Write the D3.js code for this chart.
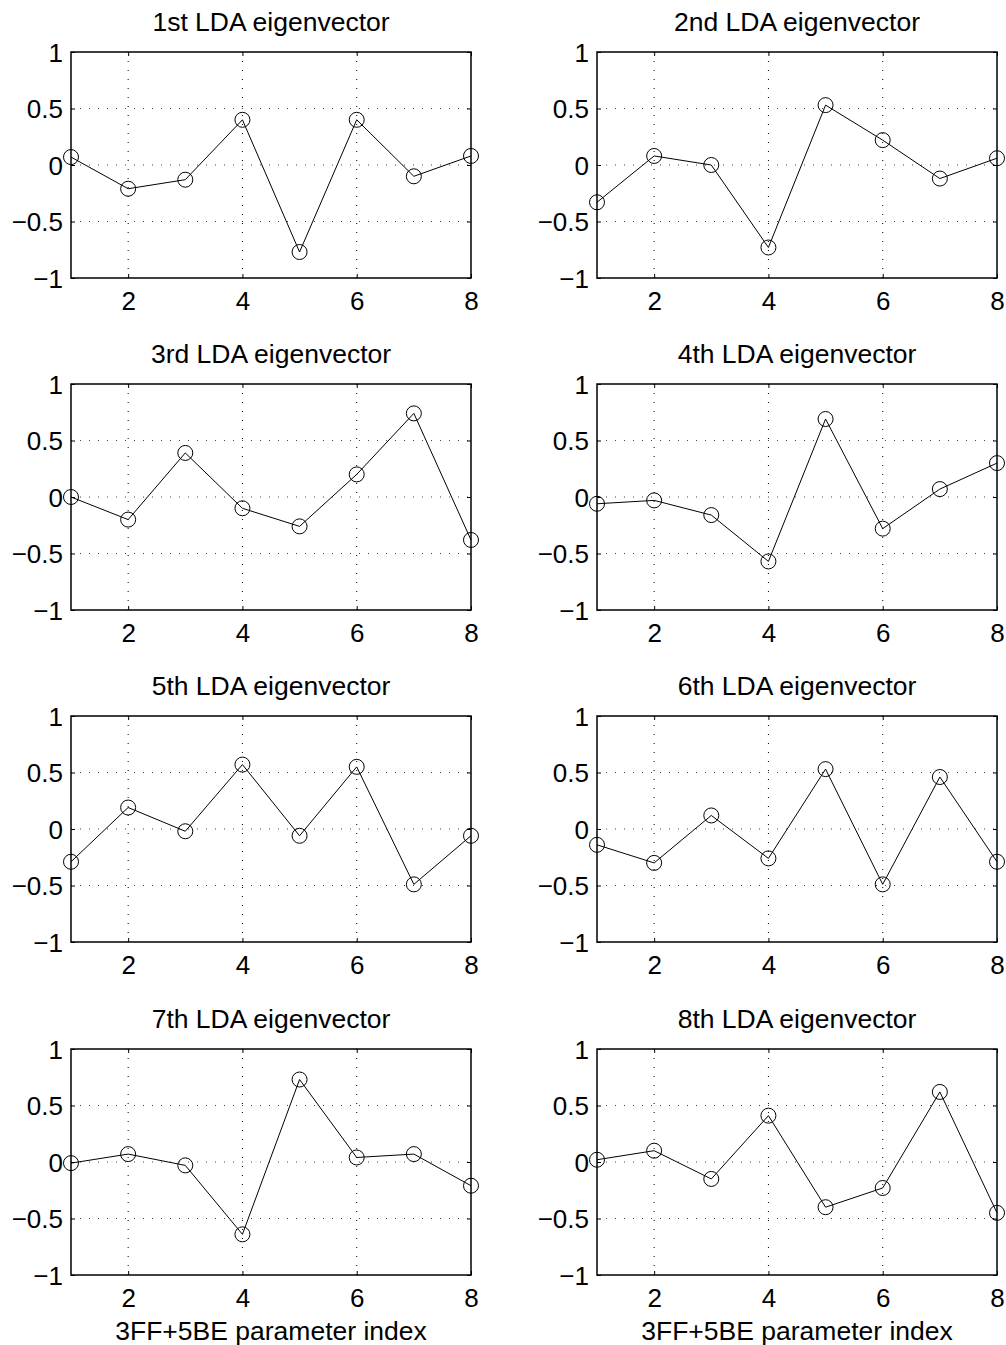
<!DOCTYPE html>
<html>
<head>
<meta charset="utf-8">
<script src="https://cdn.jsdelivr.net/npm/d3@7"></script>
<style>
  body { margin: 0; background: #fff; }
  text { font-family: "Liberation Sans", Arial, Helvetica, sans-serif; fill: #000; }
</style>
</head>
<body>
<svg id="chart" width="1006" height="1345"></svg>
<script>
const titles = ["1st LDA eigenvector","2nd LDA eigenvector","3rd LDA eigenvector","4th LDA eigenvector",
                "5th LDA eigenvector","6th LDA eigenvector","7th LDA eigenvector","8th LDA eigenvector"];
const paramIndex = [1,2,3,4,5,6,7,8];
const ev1 = [0.07,-0.21,-0.13,0.40,-0.77,0.40,-0.10,0.08];
const ev2 = [-0.33,0.08,0.00,-0.73,0.53,0.22,-0.12,0.06];
const ev3 = [0.00,-0.20,0.39,-0.10,-0.26,0.20,0.74,-0.38];
const ev4 = [-0.06,-0.03,-0.16,-0.57,0.69,-0.28,0.07,0.30];
const ev5 = [-0.29,0.19,-0.02,0.57,-0.06,0.55,-0.49,-0.06];
const ev6 = [-0.14,-0.30,0.12,-0.26,0.53,-0.49,0.46,-0.29];
const ev7 = [-0.01,0.07,-0.03,-0.64,0.73,0.04,0.07,-0.21];
const ev8 = [0.02,0.10,-0.15,0.41,-0.40,-0.23,0.62,-0.45];
const series = [ev1,ev2,ev3,ev4,ev5,ev6,ev7,ev8];
const xTicks = [2,4,6,8];
const yTicks = [-1,-0.5,0,0.5,1];
const xLabel = "3FF+5BE parameter index";

const svg = d3.select("#chart");
const colX = [71, 597];
const rowY = [52, 384, 716, 1049];
const W = 400, H = 226;

const fmt = v => (v < 0 ? "\u2212" : "") + Math.abs(v);

series.forEach((vals, i) => {
  const col = i % 2, row = Math.floor(i / 2);
  const g = svg.append("g").attr("transform", `translate(${colX[col]},${rowY[row]})`);
  const x = d3.scaleLinear().domain([1, 8]).range([0, W]);
  const y = d3.scaleLinear().domain([-1, 1]).range([H, 0]);

  // grid
  g.selectAll(".vg").data(xTicks.filter(t => t < 8)).enter().append("line")
    .attr("x1", d => x(d)).attr("x2", d => x(d)).attr("y1", 0).attr("y2", H)
    .attr("stroke", "#000").attr("stroke-width", 1).attr("stroke-dasharray", "1,8");
  g.selectAll(".hg").data(yTicks.filter(t => t > -1 && t < 1)).enter().append("line")
    .attr("x1", 0).attr("x2", W).attr("y1", d => y(d)).attr("y2", d => y(d))
    .attr("stroke", "#444").attr("stroke-width", 1).attr("stroke-dasharray", "1,8");

  // axes
  const xb = g.append("g").attr("transform", `translate(0,${H})`)
    .call(d3.axisBottom(x).tickValues(xTicks).tickSize(-4).tickPadding(14).tickFormat(d3.format("d")));
  const xt = g.append("g")
    .call(d3.axisTop(x).tickValues(xTicks).tickSize(-4).tickFormat(""));
  const yl = g.append("g")
    .call(d3.axisLeft(y).tickValues(yTicks).tickSize(-4).tickPadding(8).tickFormat(fmt));
  const yr = g.append("g").attr("transform", `translate(${W},0)`)
    .call(d3.axisRight(y).tickValues(yTicks).tickSize(-4).tickFormat(""));
  [xb, xt, yl, yr].forEach(a => {
    a.select(".domain").remove();
    a.selectAll("line").attr("stroke", "#000").attr("stroke-width", 1);
    a.selectAll("text").attr("font-size", 26)
      .style("font-family", '"Liberation Sans", Arial, sans-serif').attr("fill", "#000");
  });
  xb.selectAll("text").attr("dy", "0.71em");
  yl.selectAll("text").attr("dy", "0.36em");

  // box
  g.append("rect").attr("x", 0).attr("y", 0).attr("width", W).attr("height", H)
    .attr("fill", "none").attr("stroke", "#000").attr("stroke-width", 1.5);

  // line + markers
  const line = d3.line().x((d, j) => x(paramIndex[j])).y(d => y(d));
  g.append("path").datum(vals).attr("d", line)
    .attr("fill", "none").attr("stroke", "#000").attr("stroke-width", 1);
  g.selectAll(".m").data(vals).enter().append("circle")
    .attr("cx", (d, j) => x(paramIndex[j])).attr("cy", d => y(d)).attr("r", 7.5)
    .attr("fill", "none").attr("stroke", "#000").attr("stroke-width", 1);

  // title
  g.append("text").attr("x", W / 2).attr("y", -21).attr("text-anchor", "middle")
    .attr("font-size", 26.5).text(titles[i]);

  if (row === 3) {
    g.append("text").attr("x", W / 2).attr("y", H + 65).attr("text-anchor", "middle")
      .attr("font-size", 26.5).text(xLabel);
  }
});
</script>
</body>
</html>
